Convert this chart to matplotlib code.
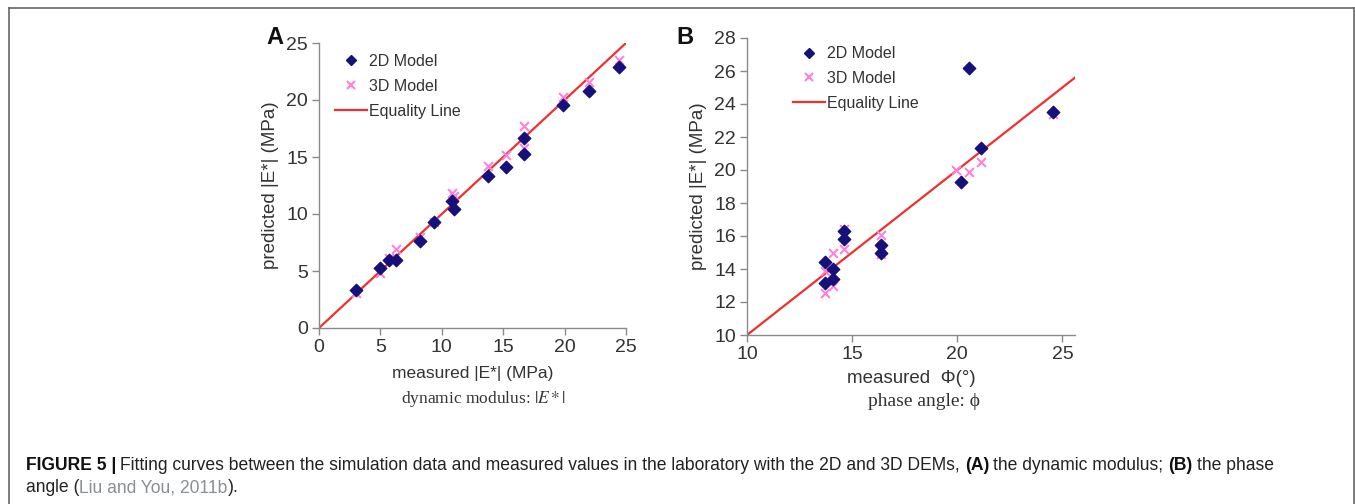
import matplotlib
matplotlib.use("Agg")
import matplotlib.pyplot as plt
from matplotlib.lines import Line2D

# ---- Data: panel A (dynamic modulus) ----
a_meas = [3.0, 5.0, 5.7, 6.3, 8.2, 9.4, 10.8, 11.0, 13.8, 15.2, 16.7, 16.7, 19.9, 22.0, 24.4]
a_2d = [3.3, 5.3, 6.0, 6.0, 7.6, 9.3, 11.1, 10.4, 13.3, 14.1, 15.3, 16.7, 19.6, 20.8, 22.9]
a_meas3 = [3.0, 5.0, 5.7, 6.3, 8.2, 9.4, 10.8, 11.0, 13.8, 15.2, 16.7, 16.7, 19.9, 22.0, 24.4]
a_3d = [3.1, 4.8, 6.1, 6.9, 8.0, 9.3, 11.8, 11.6, 14.2, 15.2, 17.7, 15.8, 20.3, 21.6, 23.5]

# ---- Data: panel B (phase angle) ----
b_meas = [13.73, 13.73, 14.1, 14.1, 14.63, 14.63, 16.38, 16.38, 20.19, 20.56, 21.14, 24.56]
b_2d = [14.4, 13.15, 14.0, 13.4, 16.3, 15.8, 15.45, 14.95, 19.25, 26.2, 21.35, 23.5]
b_meas3 = [13.73, 13.73, 14.1, 14.1, 14.63, 14.63, 16.38, 16.38, 19.92, 20.56, 21.14, 24.56]
b_3d = [12.55, 13.9, 14.95, 13.0, 15.2, 16.4, 16.05, 14.9, 20.0, 19.9, 20.5, 23.4]

a_ticks = [0, 5, 10, 15, 20, 25]
b_xticks = [10, 15, 20, 25]
b_yticks = [10, 12, 14, 16, 18, 20, 22, 24, 26, 28]

W, H = 1355, 504
plt.rcParams['font.family'] = ['Liberation Sans', 'DejaVu Sans']
plt.rcParams['mathtext.fontset'] = 'stix'
fig = plt.figure(figsize=(W / 100, H / 100), dpi=100)

c2d = '#16107a'
c3d = '#ff80d8'
cline = '#f03030'
ctext = '#333333'
cspine = '#8a8a8a'

def ax_rect(x0, x1, y0, y1):
    return [x0 / W, 1 - y0 / H, (x1 - x0) / W, (y0 - y1) / H]

def style(ax):
    for s in ['top', 'right']:
        ax.spines[s].set_visible(False)
    for s in ['left', 'bottom']:
        ax.spines[s].set_color(cspine)
        ax.spines[s].set_linewidth(1.0)
    ax.tick_params(direction='out', length=5, width=1, color=cspine,
                   labelsize=14, labelcolor=ctext, pad=3)

# Panel A
axA = fig.add_axes(ax_rect(319, 626, 328, 43))
axA.plot([0, 25], [0, 25], color=cline, lw=1.6, zorder=2)
axA.scatter(a_meas3, a_3d, marker='x', s=40, color=c3d, lw=1.5, zorder=3)
axA.scatter(a_meas, a_2d, marker='D', s=40, color=c2d, zorder=4)
axA.set_xlim(0, 25)
axA.set_ylim(0, 25)
axA.set_xticks(a_ticks)
axA.set_yticks(a_ticks)
style(axA)
axA.set_xlabel('measured |E*| (MPa)', fontsize=12.5, color=ctext, labelpad=7)
axA.set_ylabel('predicted |E*| (MPa)', fontsize=13.5, color=ctext, labelpad=5)

# Panel B
axB = fig.add_axes(ax_rect(747, 1075, 335, 38))
axB.plot([10, 25.6], [10, 25.6], color=cline, lw=1.6, zorder=2)
axB.scatter(b_meas3, b_3d, marker='x', s=40, color=c3d, lw=1.5, zorder=3)
axB.scatter(b_meas, b_2d, marker='D', s=40, color=c2d, zorder=4)
axB.set_xlim(10, 25.6)
axB.set_ylim(10, 28)
axB.set_xticks(b_xticks)
axB.set_yticks(b_yticks)
style(axB)
axB.set_xlabel('measured  \u03a6(\u00b0)', fontsize=13.5, color=ctext, labelpad=5)
axB.set_ylabel('predicted |E*| (MPa)', fontsize=13.5, color=ctext, labelpad=5)

handles = [
    Line2D([], [], marker='D', ls='none', color=c2d, markersize=5),
    Line2D([], [], marker='x', ls='none', color=c3d, markersize=6, mew=1.5),
    Line2D([], [], color=cline, lw=1.6),
]
labels = ['2D Model', '3D Model', 'Equality Line']
for ax, loc in [(axA, (0.02, 0.995)), (axB, (0.11, 1.005))]:
    ax.legend(handles, labels, loc='upper left', bbox_to_anchor=loc, frameon=False,
              fontsize=11.5, handlelength=2.0, handletextpad=0.15, labelspacing=0.62,
              labelcolor=ctext, borderaxespad=0.2)

# Panel letters
fig.text(266 / W, 1 - 37 / H, 'A', fontsize=17, fontweight='bold', va='center', ha='left', color='#111111')
fig.text(676 / W, 1 - 37 / H, 'B', fontsize=17, fontweight='bold', va='center', ha='left', color='#111111')

# serif sub-captions
fig.text(484 / W, 1 - 399 / H, r'dynamic modulus: $|E*|$', fontsize=12.5,
         family='Liberation Serif', ha='center', va='center', color=ctext)
fig.text(924 / W, 1 - 401 / H, 'phase angle: \u03d5', fontsize=14,
         family='Liberation Serif', ha='center', va='center', color=ctext)

# Border
fig.add_artist(Line2D([9 / W, 9 / W], [0, 1 - 8 / H], color='#666666', lw=1.2))
fig.add_artist(Line2D([9 / W, 1354 / W], [1 - 8 / H, 1 - 8 / H], color='#666666', lw=1.2))
fig.add_artist(Line2D([1354 / W, 1354 / W], [0, 1 - 8 / H], color='#666666', lw=1.2))

# Figure caption, built from consecutive runs
cap_fs = 12.65
x0 = 26
y1 = 1 - 465 / H
y2 = 1 - 488 / H

def run(x, y, s, bold=False, color='#222222', gap=0):
    t = fig.text(x / W, y, s, fontsize=cap_fs, fontweight='bold' if bold else 'normal',
                 va='center', ha='left', color=color)
    fig.canvas.draw()
    return t.get_window_extent().x1 + gap

x = run(x0, y1, 'FIGURE 5 |', bold=True, color='#111111', gap=4)
x = run(x, y1, 'Fitting curves between the simulation data and measured values in the laboratory with the 2D and 3D DEMs, ')
x = run(x, y1, '(A)', bold=True, color='#111111', gap=4)
x = run(x, y1, 'the dynamic modulus; ')
x = run(x, y1, '(B)', bold=True, color='#111111', gap=4)
x = run(x, y1, 'the phase')

x = run(x0, y2, 'angle (')
x = run(x, y2, 'Liu and You, 2011b', color='#8a8f96')
x = run(x, y2, ').')

fig.savefig('out.png', dpi=100)
